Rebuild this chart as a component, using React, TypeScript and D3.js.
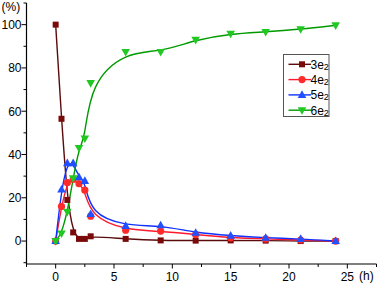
import React from "react";
import * as d3 from "d3";

const times = [0, 0.5, 1, 1.5, 2, 2.5, 3, 6, 9, 12, 15, 18, 21, 24];
const s3e2 = [100, 56.5, 19, 4, 1, 1, 2.2, 1, 0.3, 0.2, 0.3, 0.2, 0, 0];
const s4e2 = [0, 16, 27, 28.5, 26.5, 23.5, 11.5, 5, 4.6, 3, 1.5, 1, 0.5, 0];
const s5e2 = [0, 23.8, 36, 36, 29.5, 27.8, 12.5, 7, 7.3, 3.8, 2.5, 1.5, 1, 0];
const s6e2 = [0, 3.5, 13.5, 29, 43, 47.4, 73, 87.4, 87.4, 93, 95.8, 96.6, 97.9, 99.7];
const xTicks = [0, 5, 10, 15, 20, 25];
const yTicks = [0, 20, 40, 60, 80, 100];
const seriesNames = ["3e", "4e", "5e", "6e"];

const W = 378, H = 283;
const x = d3.scaleLinear().domain([-2.5, 27.5]).range([26.5, 376.5]);
const y = d3.scaleLinear().domain([-10, 110]).range([262.7, 3]);

type S = { name: string; vals: number[]; line: string; fill: string; shape: string };
const series: S[] = [
  { name: seriesNames[0], vals: s3e2, line: "#5a0c0c", fill: "#7a0a0a", shape: "square" },
  { name: seriesNames[1], vals: s4e2, line: "#ff1a2e", fill: "#ff2a2a", shape: "circle" },
  { name: seriesNames[2], vals: s5e2, line: "#1030ff", fill: "#2050ff", shape: "tri" },
  { name: seriesNames[3], vals: s6e2, line: "#009a00", fill: "#22c822", shape: "dtri" },
];

function Marker({ cx, cy, shape, fill }: { cx: number; cy: number; shape: string; fill: string }) {
  if (shape === "square") return <rect x={cx - 3} y={cy - 3} width={6} height={6} fill={fill} />;
  if (shape === "circle") return <circle cx={cx} cy={cy} r={3.6} fill={fill} />;
  if (shape === "tri")
    return <path d={`M${cx},${cy - 4.6} L${cx + 4.3},${cy + 3} L${cx - 4.3},${cy + 3} Z`} fill={fill} />;
  return <path d={`M${cx},${cy + 4.6} L${cx + 4.3},${cy - 3} L${cx - 4.3},${cy - 3} Z`} fill={fill} />;
}

export default function App() {
  const line = d3
    .line<number>()
    .x((_, i) => x(times[i]))
    .y((v) => y(v))
    .curve(d3.curveBasis);
  const font = "Liberation Sans, Arial, sans-serif";
  const xMinor = d3.range(-2.5, 27.6, 2.5);
  const yMinor = d3.range(-10, 111, 10);
  const x0 = x(-2.5), yb = y(-10) + 1.3;
  return (
    <svg width={W} height={H} style={{ position: "absolute", left: 0, top: 0 }} fontFamily={font}>
      <rect width={W} height={H} fill="#fff" />
      {/* axes */}
      <line x1={x0} x2={x0} y1={y(110)} y2={yb} stroke="#000" strokeWidth={1.2} />
      <line x1={x0} x2={x(27.5)} y1={yb} y2={yb} stroke="#000" strokeWidth={1.2} />
      {yMinor.map((t) => (
        <line key={"ym" + t} x1={x0} x2={x0 - (t % 20 === 0 ? 5 : 3)} y1={y(t)} y2={y(t)} stroke="#000" strokeWidth={1} />
      ))}
      {xMinor.map((t) => (
        <line key={"xm" + t} x1={x(t)} x2={x(t)} y1={yb} y2={yb + (t % 5 === 0 ? 4.5 : 3)} stroke="#000" strokeWidth={1} />
      ))}
      {yTicks.map((t) => (
        <text key={"yl" + t} x={21.5} y={y(t) + 4.3} fontSize={12} textAnchor="end" fill="#000">
          {t}
        </text>
      ))}
      {xTicks.map((t) => (
        <text key={"xl" + t} x={x(t)} y={280.5} fontSize={12} textAnchor="middle" fill="#000">
          {t}
        </text>
      ))}
      <text x={1.5} y={11} fontSize={12} fill="#000">(%)</text>
      <text x={359} y={280} fontSize={12} fill="#000">(h)</text>
      {/* series */}
      {series.map((s) => (
        <path key={"l" + s.name} d={line(s.vals) || ""} fill="none" stroke={s.line} strokeWidth={1.4} />
      ))}
      {series.map((s) =>
        s.vals.map((v, i) => (
          <Marker key={s.name + i} cx={x(times[i])} cy={y(v)} shape={s.shape} fill={s.fill} />
        ))
      )}
      {/* legend */}
      <rect x={283.5} y={54.5} width={45.5} height={62} fill="#fff" stroke="#555" strokeWidth={1} />
      {series.map((s, i) => {
        const ly = 64.3 + i * 15.3;
        return (
          <g key={"lg" + s.name}>
            <line x1={288.5} x2={311} y1={ly} y2={ly} stroke={s.line} strokeWidth={1.4} />
            <Marker cx={302} cy={ly} shape={s.shape} fill={s.fill} />
            <text x={310.5} y={ly + 4.3} fontSize={12} fill="#000">
              {s.name}
              <tspan fontSize={9} dy={1}>2</tspan>
            </text>
          </g>
        );
      })}
    </svg>
  );
}
